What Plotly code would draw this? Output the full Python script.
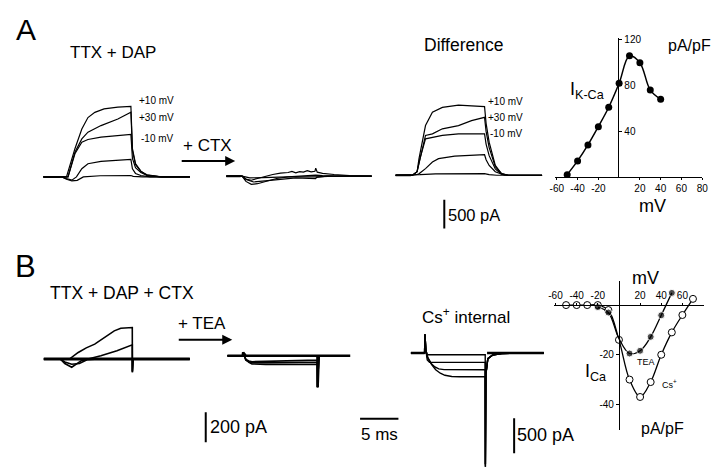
import plotly.graph_objects as go

# the page has an 8px body margin, so the figure is 8px smaller and all
# pixel positions below are given in page coordinates and shifted by OFF
OFF = 8
W, H = 720 - OFF, 469 - OFF
FONT = "Liberation Sans, Arial, sans-serif"

# ---- Panel A: TTX + DAP (time in ms, current in pA) ----
a1_p10_t = [-2.4, 0, 0.6, 1.7, 2.6, 3.4, 4.3, 5.5, 7.3, 9.0, 9.2, 9.6, 10.3, 11.1, 12.8, 16.7]
a1_p10_i = [0, 0, 0, 490, 830, 1030, 1120, 1180, 1210, 1225, 490, 230, 100, 30, 0, 0]
a1_p30_t = [-2.4, 0, 0.8, 1.7, 2.6, 3.4, 5.1, 7.3, 9.0, 9.2, 9.6, 10.3, 11.1, 13.0, 16.7]
a1_p30_i = [0, 0, 0, 430, 660, 776, 891, 1005, 1121, 460, 215, 95, 35, 0, 0]
a1_m10_t = [-2.4, 0, 0.8, 1.7, 2.6, 3.4, 5.1, 9.0, 9.2, 9.6, 10.3, 11.1, 13.0, 16.7]
a1_m10_i = [0, 0, 0, 402, 603, 650, 690, 736, 320, 160, 75, 25, 0, 0]
a1_m30_t = [-2.4, 0, 0.6, 1.3, 1.9, 2.6, 3.4, 5.1, 9.0, 9.2, 9.6, 10.3, 11.5, 16.7]
a1_m30_i = [0, 0, -30, -57, 0, 143, 229, 271, 305, 140, 60, 25, 0, 0]
a1_m50_t = [-2.4, 0, 0.6, 1.3, 2.0, 2.8, 5.0, 9.0, 9.3, 10.5, 16.7]
a1_m50_i = [0, 0, -40, -70, -60, 0, 20, 25, 10, 0, 0]

# + CTX
a2_c1_t = [-2.05, 0, 0.5, 1.2, 2.0, 3.0, 4.0, 5.0, 6.0, 6.5, 7.0, 7.5, 8.0, 8.5, 9.0, 9.5, 9.6, 9.8, 10.5, 12, 14, 16.9]
a2_c1_i = [0, 0, -50, -70, -40, 0, 30, 55, 65, 85, 60, 80, 70, 95, 75, 85, 140, 70, 50, 30, 10, 0]
a2_c2_t = [-2.05, 0, 0.5, 1.2, 2.0, 3.0, 4.5, 6.0, 8.0, 9.6, 10.5, 12, 16.9]
a2_c2_i = [0, 0, -90, -140, -130, -90, -40, -10, 10, 20, 10, 0, 0]
a2_c3_t = [-2.05, 0, 0.6, 1.5, 3, 5, 7, 9.6, 9.7, 11, 16.9]
a2_c3_i = [0, 0, -60, -100, -80, -50, -30, -40, -20, 0, 0]
a2_c4_t = [-2.05, 0, 1, 3, 6, 9.6, 12, 16.9]
a2_c4_i = [0, 0, -30, -20, -10, -10, 0, 0]

# Difference
a3_p10_t = [-2.2, 0, 0.6, 0.85, 1.7, 2.6, 3.9, 6.0, 9.4, 9.6, 10.0, 10.8, 11.6, 12.5, 16.9]
a3_p10_i = [0, 0, 60, 287, 862, 1092, 1178, 1218, 1190, 900, 574, 172, 30, 0, 0]
a3_p30_t = [-2.2, 0, 0.6, 1.0, 1.7, 2.6, 3.9, 6.0, 7.7, 9.4, 9.6, 10.0, 10.8, 11.6, 12.5, 16.9]
a3_p30_i = [0, 0, 60, 300, 690, 718, 805, 862, 948, 1005, 760, 480, 150, 30, 0, 0]
a3_m10_t = [-2.2, 0, 0.6, 1.0, 1.7, 2.6, 3.9, 6.0, 9.4, 9.6, 10.0, 10.8, 11.6, 12.5, 16.9]
a3_m10_i = [0, 0, 60, 300, 632, 660, 690, 718, 718, 540, 340, 110, 20, 0, 0]
a3_m30_t = [-2.2, 0, 0.8, 1.7, 2.6, 3.4, 5.5, 9.4, 9.6, 10.0, 10.8, 12, 16.9]
a3_m30_i = [0, 0, 20, 115, 230, 287, 330, 356, 270, 170, 60, 0, 0]
a3_m50_t = [-2.2, 0, 1.0, 3, 6, 9.4, 10, 11, 16.9]
a3_m50_i = [0, 0, 10, 25, 30, 28, 10, 0, 0]

# I-V, panel A (I K-Ca)
kca_mv = [-50, -40, -30, -20, -10, 0, 10, 20, 30, 40]
kca_i = [2, 14, 28, 44, 61, 82, 106, 100, 76, 68]
kca_xticks = [-60, -40, -20, 20, 40, 60, 80]
kca_yticks = [40, 80, 120]

# ---- Panel B ----
b1_u_t = [-2.14, 0, 1.2, 2.35, 3.4, 4.5, 5.8, 7.05, 7.9, 9.4, 9.41, 9.5, 16.9]
b1_u_i = [0, 0, 0, 44, 75, 100, 144, 189, 207, 211, -89, 0, 0]
b1_m_t = [-2.14, 0, 0.6, 1.5, 2.75, 4.0, 5.3, 7.4, 9.2, 9.4, 9.41, 9.5, 16.9]
b1_m_i = [0, 0, -30, -55, -11, 5, 22, 55, 89, 95, -89, 0, 0]
b1_l_t = [-2.14, 0, 0.6, 1.5, 2.5, 3.5, 5, 9.4, 9.41, 9.5, 16.9]
b1_l_i = [0, 0, -20, -35, -30, -5, 0, 0, -80, 0, 0]

b2_t = [-2.0, 0, 0.05, 0.4, 0.8, 1.2, 3, 6, 9.74, 9.76, 9.9, 17.0]
b2_a_i = [0, 0, 22, -25, -45, -55, -58, -57, -58, -211, 0, 0]
b2_b_i = [0, 0, 22, -30, -40, -46, -47, -45, -42, -211, 0, 0]
b2_c_i = [0, 0, 22, -25, -35, -40, -38, -33, -29, -211, 0, 0]
b2_0_i = [0, 0, 22, 0, 0, 0, 0, 0, 0, -211, 0, 0]

b3_1_t = [-1.83, -0.05, 0, 0.12, 0.3, 7.86, 7.88, 7.95, 8.2, 8.8, 10, 11.5, 15.5]
b3_1_i = [0, 0, 271, 40, -24, -24, -1634, -300, -80, -30, -8, 0, 0]
b3_2_t = [-1.83, -0.05, 0, 0.12, 0.3, 0.6, 7.86, 7.88, 7.95, 8.2, 8.8, 10, 11.5, 15.5]
b3_2_i = [0, 0, 271, 40, -100, -134, -134, -1600, -300, -80, -30, -8, 0, 0]
b3_3_t = [-1.83, -0.05, 0, 0.12, 0.3, 0.8, 1.3, 1.8, 2.5, 7.86, 7.88, 7.95, 8.2, 8.8, 10, 11.5, 15.5]
b3_3_i = [0, 0, 271, 40, -60, -150, -200, -228, -238, -240, -1600, -300, -80, -30, -8, 0, 0]
b3_4_t = [-1.83, -0.05, 0, 0.12, 0.4, 0.9, 1.4, 2.0, 2.6, 3.5, 4.5, 7.86, 7.88, 7.95, 8.2, 8.8, 10, 11.5, 15.5]
b3_4_i = [0, 0, 271, 40, -70, -170, -240, -290, -320, -336, -340, -340, -1634, -300, -80, -30, -8, 0, 0]

# I-V, panel B (I Ca)
cs_mv = [-50, -40, -30, -20, -10, 0, 10, 20, 30, 40, 50, 60, 70]
cs_i = [0, 0, 0, 0, -2, -14, -30, -37, -31, -20, -11, -4, 2.5]
tea_mv = [-20, -10, 0, 10, 20, 30, 40, 50]
tea_i = [-0.8, -3, -13.5, -19.5, -18.4, -12.8, -4.1, 4.9]
ca_xticks = [-60, -40, -20, 20, 40, 60]
ca_yticks = [-20, -40]

# scale bars (data units of the panel they sit in)
bar_a_pa = 500
bar_b_pa = 200
bar_b3_pa = 500
bar_ms = 5


def fx(px):
    return (px - OFF) / W


def fy(py):
    return 1 - (py - OFF) / H


def box(x0px, pxms, y0px, pxpa, left, right, top, bottom):
    # pixel box -> domain + range for hidden trace axes
    return dict(
        xd=[fx(left), fx(right)],
        xr=[(left - x0px) / pxms, (right - x0px) / pxms],
        yd=[fy(bottom), fy(top)],
        yr=[(y0px - bottom) / pxpa, (y0px - top) / pxpa],
    )


panels = [
    box(56.7, 7.8, 175.0, 0.058, 30, 195, 90, 190),    # A1
    box(240.0, 7.8, 174.3, 0.058, 215, 385, 90, 190),  # A2
    box(413.3, 7.8, 173.3, 0.058, 390, 550, 90, 235),  # A3
    box(55.0, 7.8, 358.3, 0.15, 30, 195, 310, 380),    # B1
    box(240.7, 7.8, 355.0, 0.15, 195, 380, 330, 450),  # B2
    box(426.0, 7.8, 352.3, 0.07, 350, 555, 320, 469),  # B3
]

fig = go.Figure()
layout = {}
for n, p in enumerate(panels, start=1):
    sx = "" if n == 1 else str(n)
    layout["xaxis" + sx] = dict(domain=p["xd"], range=p["xr"], visible=False,
                                anchor="y" + sx, fixedrange=True)
    layout["yaxis" + sx] = dict(domain=p["yd"], range=p["yr"], visible=False,
                                anchor="x" + sx, fixedrange=True)


def trace(t, i, n, width=1.2):
    sx = "" if n == 1 else str(n)
    fig.add_trace(go.Scatter(x=t, y=i, mode="lines", xaxis="x" + sx, yaxis="y" + sx,
                             line=dict(color="black", width=width), hoverinfo="skip"))


for t, i in [(a1_p10_t, a1_p10_i), (a1_p30_t, a1_p30_i), (a1_m10_t, a1_m10_i),
             (a1_m30_t, a1_m30_i), (a1_m50_t, a1_m50_i)]:
    trace(t, i, 1)
trace([-2.4, -0.3], [0, 0], 1, 2)
for t, i in [(a2_c1_t, a2_c1_i), (a2_c2_t, a2_c2_i), (a2_c3_t, a2_c3_i), (a2_c4_t, a2_c4_i)]:
    trace(t, i, 2)
trace([-2.05, -0.2], [0, 0], 2, 2)
for t, i in [(a3_p10_t, a3_p10_i), (a3_p30_t, a3_p30_i), (a3_m10_t, a3_m10_i),
             (a3_m30_t, a3_m30_i), (a3_m50_t, a3_m50_i)]:
    trace(t, i, 3)
trace([-2.2, -0.2], [0, 0], 3, 2)
trace([4.15, 4.15], [-426, -426 - bar_a_pa], 3, 2)

for t, i in [(b1_u_t, b1_u_i), (b1_m_t, b1_m_i), (b1_l_t, b1_l_i)]:
    trace(t, i, 4, 1.6)
trace([-2.14, 16.9], [0, 0], 4, 3)
for i in [b2_a_i, b2_b_i, b2_c_i]:
    trace(b2_t, i, 5, 1.6)
trace(b2_t, b2_0_i, 5, 2.6)
trace([-4.83, -4.83], [-380, -380 - bar_b_pa], 5, 2)
for t, i in [(b3_1_t, b3_1_i), (b3_2_t, b3_2_i), (b3_3_t, b3_3_i), (b3_4_t, b3_4_i)]:
    trace(t, i, 6, 1.4)
trace([-1.83, -0.05], [0, 0], 6, 2.4)
trace([8.1, 15.5], [0, 0], 6, 2.4)
trace([-8.46, -8.46 + bar_ms], [-943, -943], 6, 2)
trace([11.63, 11.63], [-939, -939 - bar_b3_pa], 6, 2)

# I-V plots
tick_font = dict(family=FONT, size=10, color="black")
fig.add_trace(go.Scatter(x=kca_mv, y=kca_i, mode="lines+markers", xaxis="x7", yaxis="y7",
                         line=dict(color="black", width=1.5, shape="spline"),
                         marker=dict(color="black", size=7), hoverinfo="skip"))
fig.add_trace(go.Scatter(x=cs_mv, y=cs_i, mode="lines+markers", xaxis="x8", yaxis="y8",
                         line=dict(color="black", width=1.3, shape="spline"),
                         marker=dict(color="white", size=7, line=dict(color="black", width=1)),
                         hoverinfo="skip"))
fig.add_trace(go.Scatter(x=tea_mv, y=tea_i, mode="lines+markers", xaxis="x8", yaxis="y8",
                         line=dict(color="black", width=1.3, shape="spline"),
                         marker=dict(color="black", size=[7, 7, 0, 7, 7, 7, 7, 7]),
                         hoverinfo="skip"))

iv_axis = dict(showline=True, linecolor="black", linewidth=1, showgrid=False,
               zeroline=False, tickfont=tick_font, fixedrange=True, ticks="outside",
               tickcolor="black")
layout["xaxis7"] = dict(iv_axis, domain=[fx(558), fx(708)], range=[-62, 80], anchor="free",
                        position=fy(175), tickvals=kca_xticks,
                        ticktext=[str(v) for v in kca_xticks], ticklen=2)
layout["yaxis7"] = dict(iv_axis, domain=[fy(175), fy(34.7)], range=[0, 122], anchor="free",
                        position=fx(622.7), side="right", tickvals=kca_yticks,
                        ticktext=[str(v) for v in kca_yticks], ticklen=3)
layout["xaxis8"] = dict(iv_axis, domain=[fx(557.5), fx(710)], range=[-61.2, 80.6],
                        anchor="free", position=fy(304), side="top", tickvals=ca_xticks,
                        ticktext=[str(v) for v in ca_xticks], ticklen=2)
layout["yaxis8"] = dict(iv_axis, domain=[fy(430), fy(280)], range=[-50.4, 9.6], anchor="free",
                        position=fx(623.3), tickvals=ca_yticks,
                        ticktext=[str(v) for v in ca_yticks], ticklen=3)


def ann(x, y, text, size=17, xanchor="left", yanchor="middle"):
    fig.add_annotation(x=fx(x), y=fy(y), xref="paper", yref="paper", text=text,
                       showarrow=False, xanchor=xanchor, yanchor=yanchor,
                       font=dict(family=FONT, size=size, color="black"))


ann(8, 8.5, "A", 30, yanchor="top")
ann(63, 50, "TTX + DAP")
ann(133, 98, "+10 mV", 10)
ann(133, 115, "+30 mV", 10)
ann(135, 136, "-10 mV", 10)
ann(178, 143, "+ CTX", 17)
ann(423, 42, "Difference", 17.5)
ann(488, 99, "+10 mV", 10)
ann(488, 115, "+30 mV", 10)
ann(490, 131, "-10 mV", 10)
ann(447, 213, "500 pA", 16.5)
ann(572, 88, "I<sub>K-Ca</sub>", 18)
ann(671, 43, "pA/pF", 16)
ann(657, 204, "mV", 18, "center")

ann(7, 265, "B", 31)
ann(43, 292, "TTX + DAP + CTX", 17.5)
ann(173, 323, "+ TEA")
ann(421, 315, "Cs<sup>+</sup> internal")
ann(205, 427, "200 pA", 18)
ann(380, 434, "5 ms", 17, "center")
ann(518, 435, "500 pA", 18)
ann(650, 277, "mV", 18, "center")
ann(587, 372, "I<sub>Ca</sub>", 18)
ann(651, 361, "TEA", 9, "center")
ann(665, 383, "Cs<sup>+</sup>", 9)
ann(668, 428, "pA/pF", 16, "center")

# arrows
for x_end, y_arr in [(233, 159), (230, 339)]:
    fig.add_annotation(x=fx(x_end), y=fy(y_arr), xref="paper", yref="paper",
                       ax=-55, ay=0, text="", showarrow=True, arrowhead=2, arrowsize=1,
                       arrowwidth=2, arrowcolor="black")

fig.update_layout(width=W, height=H, margin=dict(l=0, r=0, t=0, b=0),
                  plot_bgcolor="white", paper_bgcolor="white", showlegend=False,
                  **layout)

fig.write_html("out.html")
